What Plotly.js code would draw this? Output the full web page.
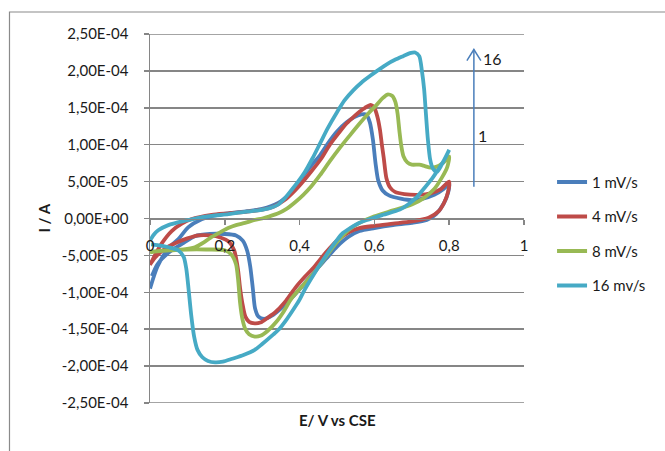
<!DOCTYPE html>
<html>
<head>
<meta charset="utf-8">
<script src="https://cdn.plot.ly/plotly-3.0.1.min.js"></script>
<style>html,body{margin:0;padding:0;background:#fff;}#chart{width:665px;height:451px;}</style>
</head>
<body>
<div id="chart"></div>
<script>
// Series names
const seriesNames = ['1 mV/s', '4 mV/s', '8 mV/s', '16 mv/s'];

// 1 mV/s
const e1 = [0,0.02,0.05,0.076,0.102,0.138,0.17,0.209,0.26,0.3,0.343,0.37,0.388,0.41,0.432,0.455,0.48,0.5,0.525,0.545,0.565,0.578,0.588,0.596,0.603,0.61,0.622,0.64,0.67,0.7,0.73,0.76,0.785,0.8,
  0.797,0.785,0.765,0.74,0.7,0.65,0.6,0.56,0.53,0.5,0.47,0.44,0.41,0.38,0.35,0.325,0.305,0.29,0.281,0.275,0.268,0.26,0.248,0.23,0.2,0.16,0.12,0.09,0.05,0.02,0.005];
const i1 = [-9.5e-5,-6.5e-5,-4.0e-5,-2.8e-5,-1.2e-5,-1e-6,4e-6,7e-6,1.0e-5,1.3e-5,2.1e-5,3.2e-5,4.3e-5,5.8e-5,7.2e-5,8.6e-5,1.05e-4,1.18e-4,1.3e-4,1.37e-4,1.41e-4,1.41e-4,1.3e-4,1.07e-4,7.5e-5,5.2e-5,3.8e-5,3.1e-5,2.7e-5,2.5e-5,2.7e-5,3.2e-5,4.0e-5,4.7e-5,
  3.5e-5,2.0e-5,6e-6,-2e-6,-6e-6,-9e-6,-1.3e-5,-1.7e-5,-2.5e-5,-3.8e-5,-5.5e-5,-7.2e-5,-9.0e-5,-1.07e-4,-1.22e-4,-1.32e-4,-1.36e-4,-1.33e-4,-1.22e-4,-9.5e-5,-6.5e-5,-4.4e-5,-3.0e-5,-2.3e-5,-2.1e-5,-2.1e-5,-2.4e-5,-3.3e-5,-4.6e-5,-6.2e-5,-7.8e-5];

// 4 mV/s
const e4 = [0,0.015,0.031,0.058,0.085,0.11,0.165,0.21,0.254,0.3,0.33,0.36,0.38,0.397,0.43,0.459,0.481,0.505,0.526,0.545,0.561,0.575,0.59,0.6,0.608,0.615,0.62,0.625,0.632,0.642,0.655,0.68,0.72,0.75,0.775,0.8,
  0.797,0.787,0.772,0.745,0.7,0.65,0.6,0.56,0.53,0.5,0.472,0.44,0.414,0.39,0.361,0.335,0.316,0.295,0.28,0.265,0.255,0.247,0.241,0.235,0.225,0.21,0.19,0.16,0.13,0.1,0.07,0.04,0.015,0.003];
const i4 = [-6.3e-5,-4.8e-5,-3.4e-5,-1.7e-5,-7e-6,-1e-6,5e-6,7e-6,9e-6,1.2e-5,1.6e-5,2.5e-5,3.4e-5,4.3e-5,6.3e-5,8.2e-5,1.0e-4,1.16e-4,1.29e-4,1.38e-4,1.45e-4,1.5e-4,1.54e-4,1.5e-4,1.38e-4,1.2e-4,1.0e-4,8.2e-5,5.5e-5,4.2e-5,3.6e-5,3.3e-5,3.2e-5,3.4e-5,3.9e-5,5.0e-5,
  3.6e-5,2.2e-5,1.0e-5,1e-6,-4e-6,-7e-6,-1.0e-5,-1.3e-5,-1.9e-5,-3.0e-5,-4.5e-5,-6.5e-5,-7.9e-5,-9.3e-5,-1.13e-4,-1.27e-4,-1.34e-4,-1.41e-4,-1.42e-4,-1.4e-4,-1.33e-4,-1.15e-4,-9.5e-5,-6.8e-5,-4.3e-5,-3.1e-5,-2.6e-5,-2.3e-5,-2.3e-5,-2.7e-5,-3.3e-5,-4.1e-5,-5.2e-5,-6.0e-5];

// 8 mV/s
const e8 = [0,0.03,0.06,0.09,0.12,0.145,0.165,0.19,0.209,0.23,0.254,0.28,0.3,0.32,0.343,0.365,0.388,0.41,0.432,0.455,0.48,0.508,0.535,0.561,0.585,0.606,0.622,0.635,0.648,0.656,0.662,0.667,0.672,0.678,0.688,0.7,0.72,0.735,0.75,0.765,0.785,0.8,
  0.795,0.78,0.76,0.73,0.7,0.65,0.6,0.56,0.53,0.5,0.47,0.44,0.41,0.379,0.355,0.338,0.315,0.295,0.28,0.265,0.255,0.247,0.241,0.236,0.23,0.218,0.2,0.15,0.1,0.05,0.003];
const i8 = [-4.6e-5,-4.4e-5,-4.3e-5,-4.2e-5,-3.9e-5,-3.2e-5,-2.5e-5,-1.8e-5,-1.3e-5,-9e-6,-6e-6,-2e-6,0,3e-6,7e-6,1.3e-5,2.2e-5,3.2e-5,4.4e-5,5.9e-5,7.7e-5,9.6e-5,1.13e-4,1.29e-4,1.43e-4,1.54e-4,1.63e-4,1.68e-4,1.66e-4,1.58e-4,1.42e-4,1.18e-4,9.8e-5,8.4e-5,7.6e-5,7.3e-5,7.3e-5,7.1e-5,6.9e-5,7.0e-5,7.6e-5,8.4e-5,
  7.0e-5,5.5e-5,4.0e-5,2.7e-5,1.9e-5,1.1e-5,3e-6,-6e-6,-1.6e-5,-3.2e-5,-5.2e-5,-7.3e-5,-9.0e-5,-1.08e-4,-1.28e-4,-1.4e-4,-1.52e-4,-1.59e-4,-1.6e-4,-1.57e-4,-1.5e-4,-1.36e-4,-1.15e-4,-8.5e-5,-6.2e-5,-4.9e-5,-4.3e-5,-4.2e-5,-4.2e-5,-4.3e-5,-4.5e-5];

// 16 mv/s
const e16 = [0,0.01,0.022,0.049,0.094,0.13,0.165,0.21,0.254,0.29,0.32,0.343,0.36,0.379,0.396,0.414,0.435,0.455,0.475,0.5,0.52,0.544,0.565,0.588,0.61,0.633,0.655,0.677,0.695,0.709,0.72,0.727,0.733,0.738,0.743,0.749,0.756,0.767,0.78,0.8,
  0.785,0.757,0.735,0.713,0.69,0.668,0.623,0.58,0.555,0.535,0.515,0.5,0.48,0.463,0.445,0.428,0.413,0.4,0.385,0.365,0.345,0.33,0.3,0.28,0.25,0.22,0.195,0.174,0.155,0.14,0.127,0.118,0.11,0.103,0.097,0.09,0.075,0.05,0.02,0.003];
const i16 = [-3.0e-5,-2.2e-5,-1.6e-5,-9e-6,-3e-6,1e-6,3.5e-6,6e-6,9e-6,1.1e-5,1.4e-5,1.9e-5,2.7e-5,3.9e-5,5.0e-5,6.3e-5,8.2e-5,1.02e-4,1.22e-4,1.44e-4,1.6e-4,1.74e-4,1.84e-4,1.93e-4,2.01e-4,2.09e-4,2.15e-4,2.2e-4,2.24e-4,2.25e-4,2.2e-4,2.0e-4,1.75e-4,1.4e-4,1.07e-4,8.0e-5,6.8e-5,6.3e-5,7.3e-5,9.3e-5,
  7.8e-5,5.6e-5,4.2e-5,2.9e-5,1.9e-5,1.2e-5,5e-6,-2e-6,-7e-6,-1.3e-5,-2.0e-5,-2.9e-5,-4.3e-5,-5.6e-5,-7.0e-5,-8.4e-5,-9.7e-5,-1.1e-4,-1.22e-4,-1.37e-4,-1.5e-4,-1.57e-4,-1.7e-4,-1.78e-4,-1.85e-4,-1.9e-4,-1.94e-4,-1.95e-4,-1.93e-4,-1.88e-4,-1.78e-4,-1.6e-4,-1.3e-4,-9.5e-5,-6.8e-5,-5.2e-5,-4.3e-5,-3.9e-5,-3.6e-5,-3.5e-5];

// Tick labels
const xTickVals = [0, 0.2, 0.4, 0.6, 0.8, 1];
const xTickText = ['0', '0,2', '0,4', '0,6', '0,8', '1'];
const yTickVals = [2.5e-4, 2e-4, 1.5e-4, 1e-4, 5e-5, 0, -5e-5, -1e-4, -1.5e-4, -2e-4, -2.5e-4];
const yTickText = ['2,50E-04', '2,00E-04', '1,50E-04', '1,00E-04', '5,00E-05', '0,00E+00', '-5,00E-05', '-1,00E-04', '-1,50E-04', '-2,00E-04', '-2,50E-04'];

const colors = ['#4A7EBB', '#BE4B48', '#98B954', '#46AAC5'];
const xs = [e1, e4, e8, e16];
const ys = [i1, i4, i8, i16];

const FONT = 'Lato, "Open Sans", sans-serif';
const traces = xs.map((x, k) => ({
  type: 'scatter', mode: 'lines', x: x, y: ys[k], name: seriesNames[k],
  legendgroup: 'g' + k,
  line: {color: colors[k], width: 3.8, shape: 'spline', smoothing: 0.7}
}));

const grey = '#868686';
const yMax = yTickVals[0], yMin = yTickVals[yTickVals.length - 1];
const layout = {
  width: 665, height: 451,
  paper_bgcolor: '#fff', plot_bgcolor: '#fff',
  margin: {l: 150, r: 141, t: 34, b: 48, pad: 0, autoexpand: false},
  font: {family: FONT, size: 15, color: '#1a1a1a'},
  showlegend: true,
  legend: {x: 1.075, y: 0.643, xanchor: 'left', yanchor: 'top', traceorder: 'grouped', tracegroupgap: 12,
           font: {family: FONT, size: 15, color: '#1a1a1a'}, bgcolor: 'rgba(0,0,0,0)'},
  xaxis: {range: [0, 1], tickmode: 'array', tickvals: xTickVals, ticktext: xTickText,
          anchor: 'free', position: 0.5, showline: true, linecolor: grey, linewidth: 1.5,
          ticks: 'outside', ticklen: 5, tickcolor: grey, tickwidth: 1.5, showgrid: false, zeroline: false,
          ticklabelstandoff: 8, tickfont: {family: FONT, size: 15, color: '#1a1a1a'}},
  yaxis: {range: [yMin, yMax], tickmode: 'array', tickvals: yTickVals, ticktext: yTickText,
          showline: true, linecolor: grey, linewidth: 1.5, ticks: 'outside', ticklen: 5, tickcolor: grey, tickwidth: 1.5,
          showgrid: true, gridcolor: grey, gridwidth: 1.5, zeroline: false,
          ticklabelstandoff: 12, tickfont: {family: FONT, size: 15, color: '#1a1a1a'}},
  annotations: [
    {xref: 'paper', yref: 'paper', x: 0.5, y: -0.046, text: '<b>E/ V vs CSE</b>', showarrow: false,
     font: {family: FONT, size: 15, color: '#1a1a1a'}, xanchor: 'center', yanchor: 'middle'},
    {xref: 'paper', yref: 'paper', x: -0.286, y: 0.5, text: '<b>I / A</b>', showarrow: false, textangle: -90,
     font: {family: FONT, size: 15, color: '#1a1a1a'}, xanchor: 'center', yanchor: 'middle'},
    {xref: 'x', yref: 'y', x: 0.917, y: 2.167e-4, text: '16', showarrow: false,
     font: {family: FONT, size: 16, color: '#1a1a1a'}, xanchor: 'center', yanchor: 'middle'},
    {xref: 'x', yref: 'y', x: 0.89, y: 1.13e-4, text: '1', showarrow: false,
     font: {family: FONT, size: 16, color: '#1a1a1a'}, xanchor: 'center', yanchor: 'middle'}
  ],
  shapes: [
    {type: 'path', xref: 'paper', yref: 'paper', path: 'M -0.3757,-0.2 L -0.3757,1.0596 L 1.4,1.0596',
     line: {color: '#8a8a8a', width: 1.2}},
    {type: 'line', xref: 'paper', yref: 'y', x0: 0, x1: 1, y0: yMax, y1: yMax, line: {color: grey, width: 1.5}},
    {type: 'line', xref: 'paper', yref: 'y', x0: 0, x1: 1, y0: yMin, y1: yMin, line: {color: grey, width: 1.5}},
    {type: 'line', xref: 'x', yref: 'y', x0: 0.866, y0: 4.3e-5, x1: 0.866, y1: 2.29e-4,
     line: {color: '#4A7EBB', width: 1.5}},
    {type: 'path', xref: 'x', yref: 'y', path: 'M 0.8473,2.14e-4 L 0.866,2.29e-4 L 0.8847,2.14e-4',
     line: {color: '#4A7EBB', width: 1.5}}
  ]
};

Plotly.newPlot('chart', traces, layout, {displayModeBar: false, staticPlot: true});
</script>
</body>
</html>
